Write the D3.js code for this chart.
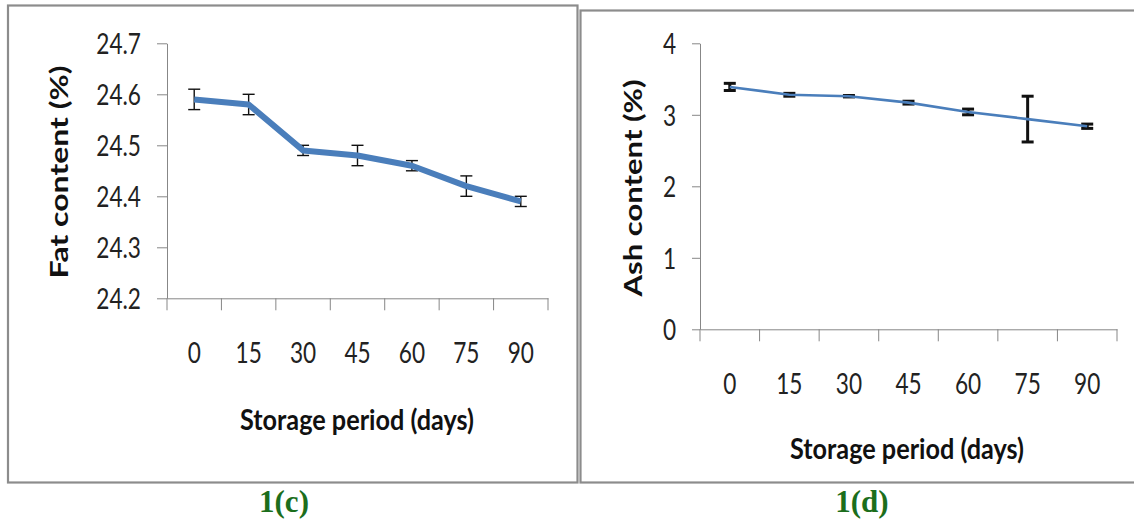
<!DOCTYPE html>
<html>
<head>
<meta charset="utf-8">
<script src="https://cdn.jsdelivr.net/npm/d3@7"></script>
<style>
  body { margin: 0; background: #fff; }
  svg { display: block; }
</style>
</head>
<body>
<svg id="chart" width="1134" height="523"></svg>
<script>
  // storage days (categories)
  var days = [0, 15, 30, 45, 60, 75, 90];

  // 1(c) fat content
  var fatMean = [24.59, 24.58, 24.49, 24.48, 24.46, 24.42, 24.39];
  var fatErr = [0.02, 0.02, 0.01, 0.02, 0.01, 0.02, 0.01];
  var fatTicks = [24.2, 24.3, 24.4, 24.5, 24.6, 24.7];

  // 1(d) ash content
  var ashMean = [3.39, 3.28, 3.26, 3.17, 3.04, 2.94, 2.84];
  var ashErr = [0.05, 0.02, 0.01, 0.02, 0.04, 0.32, 0.03];
  var ashTicks = [0, 1, 2, 3, 4];

  var svg = d3.select("#chart");
  var SX = 0.78; // narrow tick glyphs
  var axisColor = "#878787";
  var lineColor = "#4a7ebb";

  // frames
  svg.append("rect").attr("x", 8).attr("y", 5.5).attr("width", 569.5).attr("height", 477)
    .attr("fill", "none").attr("stroke", "#8c8c8c").attr("stroke-width", 2.2);
  svg.append("rect").attr("x", 580.5).attr("y", 10.5).attr("width", 560).attr("height", 472)
    .attr("fill", "none").attr("stroke", "#8c8c8c").attr("stroke-width", 2.2);

  function drawPanel(p) {
    var x = d3.scaleBand().domain(p.cats).range([p.x0, p.x1]).padding(0);
    var y = d3.scaleLinear().domain(p.domain).range([p.yBottom, p.yTop]);
    var g = svg.append("g");

    // y axis
    var ya = g.append("g")
      .attr("transform", "translate(" + p.x0 + ",0)")
      .call(d3.axisLeft(y).tickValues(p.ticks).tickFormat(p.fmt).tickSize(p.ytick).tickSizeOuter(0).tickPadding(16));
    ya.select(".domain").attr("stroke", axisColor);
    ya.selectAll(".tick line").attr("stroke", axisColor);
    ya.selectAll(".tick text")
      .attr("font-family", "Lato, 'Open Sans', sans-serif")
      .attr("font-size", 29)
      .attr("fill", "#222")
      .attr("x", -(p.ytick + 16) / SX)
      .attr("dy", "0.36em")
      .attr("transform", "scale(" + SX + ",1)");

    // x axis
    var xa = g.append("g")
      .attr("transform", "translate(0," + p.yBottom + ")")
      .call(d3.axisBottom(x).tickSize(0).tickPadding(0).tickSizeOuter(0));
    xa.select(".domain").attr("stroke", axisColor);
    xa.selectAll(".tick text")
      .attr("font-family", "Lato, 'Open Sans', sans-serif")
      .attr("font-size", 29)
      .attr("fill", "#222")
      .attr("y", 65)
      .attr("dy", 0)
      .attr("transform", "scale(" + SX + ",1)");
    var bounds = p.cats.map(function(d) { return x(d); }).concat([x.range()[1]]);
    xa.selectAll(".bound").data(bounds).enter().append("line")
      .attr("x1", function(d) { return d; }).attr("x2", function(d) { return d; })
      .attr("y1", 0).attr("y2", 12)
      .attr("stroke", axisColor);

    var rows = p.cats.map(function(c, i) { return { c: c, v: p.mean[i], e: p.err[i] }; });
    var cx = function(d) { return x(d.c) + x.bandwidth() / 2; };

    // error bars
    var eb = g.selectAll(".err").data(rows).enter().append("g")
      .attr("stroke", "#111").attr("stroke-width", p.errW);
    eb.append("line")
      .attr("x1", cx).attr("x2", cx)
      .attr("y1", function(d) { return y(d.v + d.e); })
      .attr("y2", function(d) { return y(d.v - d.e); });
    eb.append("line")
      .attr("x1", function(d) { return cx(d) - 6; }).attr("x2", function(d) { return cx(d) + 6; })
      .attr("y1", function(d) { return y(d.v + d.e); })
      .attr("y2", function(d) { return y(d.v + d.e); });
    eb.append("line")
      .attr("x1", function(d) { return cx(d) - 6; }).attr("x2", function(d) { return cx(d) + 6; })
      .attr("y1", function(d) { return y(d.v - d.e); })
      .attr("y2", function(d) { return y(d.v - d.e); });

    // series line
    g.append("path")
      .datum(rows)
      .attr("fill", "none")
      .attr("stroke", lineColor)
      .attr("stroke-width", p.lineW)
      .attr("stroke-linejoin", "round")
      .attr("d", d3.line().x(cx).y(function(d) { return y(d.v); }));

    // axis titles
    g.append("text")
      .attr("transform", "translate(" + p.yTitleX + "," + p.yTitleY + ") rotate(-90)")
      .attr("text-anchor", "middle")
      .attr("font-family", "Lato, 'Open Sans', sans-serif")
      .attr("font-weight", "bold")
      .attr("font-size", 25)
      .attr("fill", "#111")
      .attr("textLength", p.yTitleLen)
      .attr("lengthAdjust", "spacingAndGlyphs")
      .text(p.yTitle);

    g.append("text")
      .attr("x", p.xTitleX).attr("y", p.xTitleY)
      .attr("text-anchor", "middle")
      .attr("font-family", "Lato, 'Open Sans', sans-serif")
      .attr("font-weight", "bold")
      .attr("font-size", 28)
      .attr("fill", "#111")
      .attr("textLength", 234)
      .attr("lengthAdjust", "spacingAndGlyphs")
      .text("Storage period (days)");

    // caption
    g.append("text")
      .attr("x", p.capX).attr("y", 512)
      .attr("text-anchor", "middle")
      .attr("font-family", "'Liberation Serif', 'Times New Roman', serif")
      .attr("font-weight", "bold")
      .attr("font-size", 31)
      .attr("fill", "#1c6e1c")
      .text(p.caption);
  }

  drawPanel({
    cats: days, mean: fatMean, err: fatErr, ticks: fatTicks,
    domain: [24.2, 24.7], fmt: d3.format(".1f"),
    x0: 167, x1: 548, yTop: 43.3, yBottom: 298.3, ytick: 10,
    lineW: 6, errW: 1.4,
    yTitle: "Fat content (%)", yTitleX: 68, yTitleY: 172, yTitleLen: 213,
    xTitleX: 357, xTitleY: 430,
    caption: "1(c)", capX: 284
  });

  drawPanel({
    cats: days, mean: ashMean, err: ashErr, ticks: ashTicks,
    domain: [0, 4], fmt: d3.format("d"),
    x0: 700, x1: 1117, yTop: 43.3, yBottom: 329.3, ytick: 8,
    lineW: 2.6, errW: 3,
    yTitle: "Ash content (%)", yTitleX: 642, yTitleY: 188, yTitleLen: 217,
    xTitleX: 907, xTitleY: 459,
    caption: "1(d)", capX: 862
  });
</script>
</body>
</html>
